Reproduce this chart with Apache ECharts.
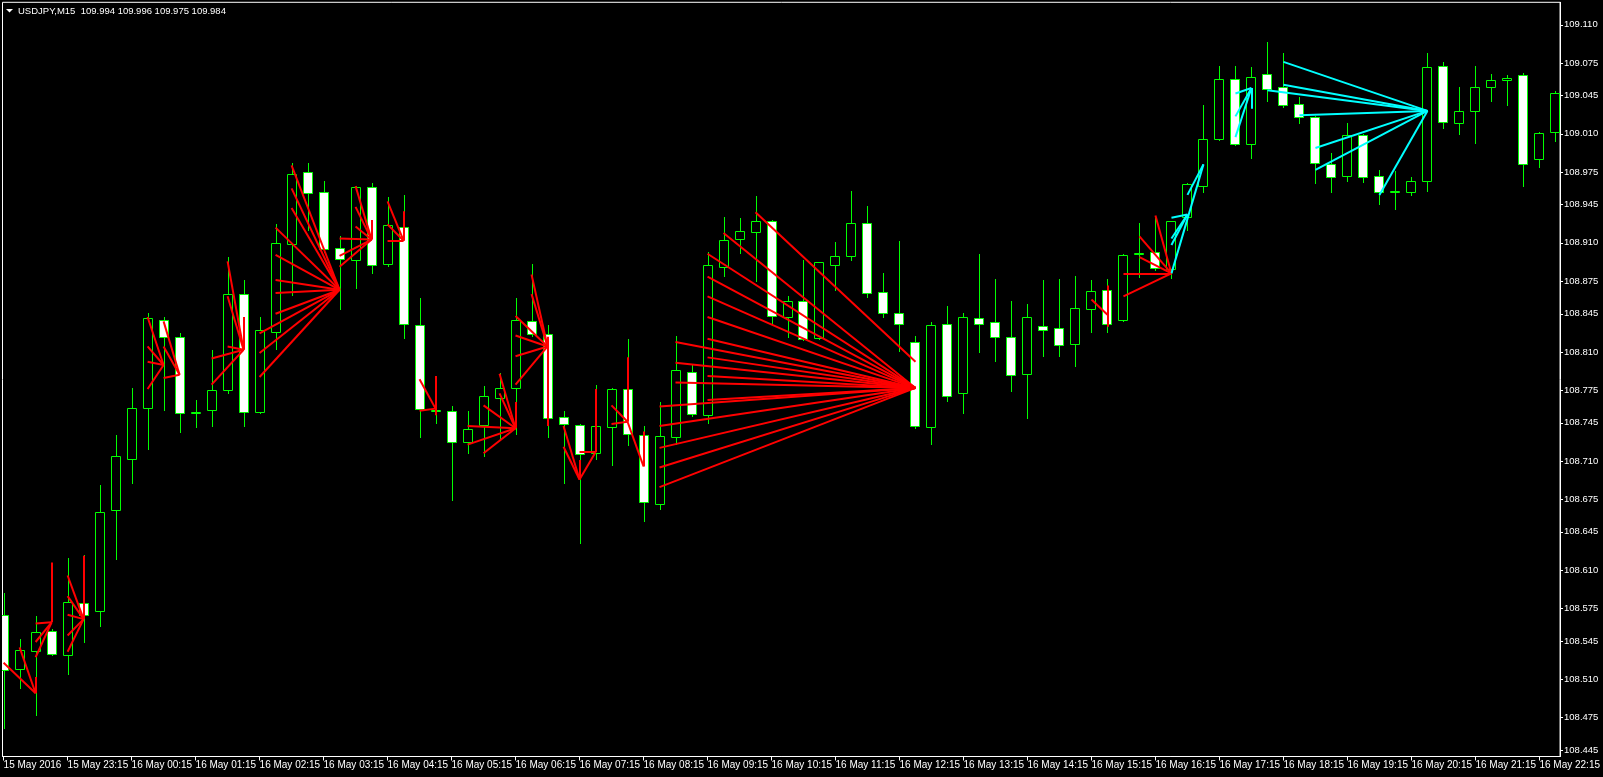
<html>
<head>
<meta charset="utf-8">
<title>USDJPY,M15</title>
<script src="https://cdn.jsdelivr.net/npm/echarts@6/dist/echarts.min.js"></script>
<style>
html, body { margin: 0; padding: 0; background: #000; }
#chart { width: 1603px; height: 777px; }
</style>
</head>
<body>
<div id="chart"></div>
<script>
// bar labels on the time scale (one every 4 bars = 1 hour)
var xTickBars = [0, 4, 8, 12, 16, 20, 24, 28, 32, 36, 40, 44, 48, 52, 56, 60, 64, 68, 72, 76, 80, 84, 88, 92, 96];
var xLabels = ['15 May 2016', '15 May 23:15', '16 May 00:15', '16 May 01:15', '16 May 02:15', '16 May 03:15',
	'16 May 04:15', '16 May 05:15', '16 May 06:15', '16 May 07:15', '16 May 08:15', '16 May 09:15',
	'16 May 10:15', '16 May 11:15', '16 May 12:15', '16 May 13:15', '16 May 14:15', '16 May 15:15',
	'16 May 16:15', '16 May 17:15', '16 May 18:15', '16 May 19:15', '16 May 20:15', '16 May 21:15', '16 May 22:15'];

// price scale labels
var yTicks = [108.445, 108.475, 108.510, 108.545, 108.575, 108.610, 108.645, 108.675, 108.710, 108.745,
	108.775, 108.810, 108.845, 108.875, 108.910, 108.945, 108.975, 109.010, 109.045, 109.075, 109.110];

// candles, bar 0 .. 97
var opens = [
	108.569, 108.519, 108.536, 108.554, 108.532, 108.580, 108.572, 108.665, 108.712, 108.759,
	108.839, 108.824, 108.754, 108.757, 108.775, 108.863, 108.755, 108.828, 108.909, 108.975,
	108.957, 108.905, 108.894, 108.961, 108.891, 108.925, 108.835, 108.756, 108.756, 108.727,
	108.743, 108.768, 108.777, 108.838, 108.826, 108.750, 108.743, 108.717, 108.741, 108.776,
	108.734, 108.671, 108.732, 108.792, 108.752, 108.888, 108.914, 108.920, 108.930, 108.842,
	108.857, 108.823, 108.890, 108.898, 108.928, 108.865, 108.846, 108.819, 108.741, 108.836,
	108.772, 108.841, 108.837, 108.824, 108.790, 108.834, 108.832, 108.817, 108.849, 108.867,
	108.839, 108.900, 108.902, 108.886, 108.934, 108.962, 109.005, 109.060, 109.001, 109.065,
	109.053, 109.037, 109.025, 108.982, 108.971, 109.009, 108.971, 108.958, 108.957, 108.967,
	109.072, 109.020, 109.031, 109.053, 109.059, 109.064, 108.987, 109.012];
var highs = [
	108.589, 108.547, 108.568, 108.556, 108.621, 108.624, 108.688, 108.734, 108.777, 108.846,
	108.842, 108.827, 108.766, 108.812, 108.897, 108.876, 108.842, 108.927, 108.983, 108.983,
	108.967, 108.916, 108.962, 108.965, 108.952, 108.954, 108.859, 108.761, 108.760, 108.756,
	108.779, 108.791, 108.859, 108.891, 108.835, 108.756, 108.744, 108.780, 108.777, 108.822,
	108.742, 108.764, 108.825, 108.798, 108.902, 108.934, 108.933, 108.953, 108.931, 108.861,
	108.894, 108.892, 108.911, 108.958, 108.944, 108.882, 108.912, 108.825, 108.837, 108.852,
	108.846, 108.900, 108.877, 108.857, 108.854, 108.876, 108.877, 108.880, 108.876, 108.877,
	108.900, 108.928, 108.933, 108.930, 108.965, 109.036, 109.072, 109.072, 109.071, 109.094,
	109.084, 109.044, 109.026, 108.992, 109.020, 109.010, 108.977, 108.976, 108.970, 109.084,
	109.076, 109.053, 109.072, 109.065, 109.064, 109.066, 109.012, 109.049];
var lows = [
	108.465, 108.502, 108.477, 108.532, 108.515, 108.544, 108.559, 108.620, 108.690, 108.721,
	108.757, 108.737, 108.741, 108.742, 108.772, 108.742, 108.754, 108.813, 108.862, 108.922,
	108.902, 108.849, 108.869, 108.882, 108.889, 108.823, 108.732, 108.745, 108.674, 108.717,
	108.715, 108.731, 108.735, 108.825, 108.732, 108.690, 108.635, 108.712, 108.706, 108.725,
	108.655, 108.666, 108.726, 108.751, 108.745, 108.880, 108.901, 108.875, 108.836, 108.824,
	108.821, 108.822, 108.867, 108.894, 108.860, 108.842, 108.811, 108.740, 108.726, 108.765,
	108.754, 108.810, 108.802, 108.774, 108.749, 108.806, 108.806, 108.797, 108.828, 108.828,
	108.838, 108.879, 108.885, 108.878, 108.922, 108.957, 109.004, 109.000, 108.988, 109.040,
	109.035, 109.020, 108.965, 108.957, 108.967, 108.966, 108.946, 108.941, 108.954, 108.958,
	109.015, 109.010, 109.002, 109.040, 109.036, 108.962, 108.980, 109.003];
var closes = [
	108.518, 108.537, 108.553, 108.533, 108.581, 108.569, 108.663, 108.715, 108.759, 108.841,
	108.824, 108.754, 108.755, 108.775, 108.863, 108.755, 108.830, 108.910, 108.973, 108.956,
	108.904, 108.895, 108.961, 108.890, 108.926, 108.836, 108.758, 108.757, 108.727, 108.739,
	108.770, 108.777, 108.839, 108.826, 108.749, 108.744, 108.716, 108.742, 108.776, 108.735,
	108.672, 108.733, 108.793, 108.753, 108.890, 108.913, 108.921, 108.930, 108.843, 108.857,
	108.822, 108.892, 108.898, 108.928, 108.864, 108.846, 108.836, 108.742, 108.835, 108.770,
	108.842, 108.836, 108.824, 108.789, 108.842, 108.830, 108.816, 108.850, 108.866, 108.836,
	108.899, 108.901, 108.887, 108.930, 108.964, 109.005, 109.060, 109.001, 109.062, 109.051,
	109.036, 109.025, 108.983, 108.970, 109.009, 108.970, 108.957, 108.958, 108.967, 109.071,
	109.021, 109.031, 109.053, 109.059, 109.061, 108.982, 109.011, 109.047];

// trend objects: [bar1, price1, bar2, price2]
var redLines = [
	[0, 108.525, 2, 108.497], [1, 108.539, 2, 108.497], [2, 108.512, 2, 108.497],
	[2, 108.561, 3, 108.562], [2, 108.544, 3, 108.562], [2, 108.530, 3, 108.562], [3, 108.617, 3, 108.562],
	[4, 108.605, 5, 108.565], [4, 108.586, 5, 108.565], [4, 108.569, 5, 108.565], [4, 108.550, 5, 108.565],
	[4, 108.535, 5, 108.565], [5, 108.623, 5, 108.565],
	[9, 108.842, 10, 108.798], [9, 108.815, 10, 108.798], [9, 108.801, 10, 108.798], [9, 108.776, 10, 108.798],
	[10, 108.838, 11, 108.789], [10, 108.815, 11, 108.789], [10, 108.786, 11, 108.789],
	[14, 108.893, 15, 108.812], [14, 108.861, 15, 108.812], [14, 108.815, 15, 108.812],
	[13, 108.804, 15, 108.812], [13, 108.780, 15, 108.812], [15, 108.842, 15, 108.812],
	[18, 108.981, 21, 108.867], [18, 108.960, 21, 108.867], [18, 108.942, 21, 108.867],
	[17, 108.924, 21, 108.867], [17, 108.899, 21, 108.867], [17, 108.876, 21, 108.867],
	[17, 108.864, 21, 108.867], [17, 108.845, 21, 108.867], [16, 108.827, 21, 108.867],
	[16, 108.809, 21, 108.867], [16, 108.787, 21, 108.867],
	[22, 108.962, 23, 108.913], [22, 108.943, 23, 108.913], [22, 108.925, 23, 108.913],
	[21, 108.914, 23, 108.913], [21, 108.898, 23, 108.913], [21, 108.888, 23, 108.913], [23, 108.931, 23, 108.913],
	[24, 108.948, 25, 108.912], [24, 108.927, 25, 108.912], [24, 108.912, 25, 108.912], [25, 108.939, 25, 108.912],
	[26, 108.785, 27, 108.758], [26, 108.756, 27, 108.758], [27, 108.788, 27, 108.752],
	[31, 108.790, 32, 108.740], [31, 108.772, 32, 108.740], [30, 108.761, 32, 108.740],
	[29, 108.742, 32, 108.740], [29, 108.725, 32, 108.740], [30, 108.717, 32, 108.740], [32, 108.764, 32, 108.740],
	[33, 108.881, 34, 108.815], [33, 108.863, 34, 108.815], [32, 108.843, 34, 108.815],
	[32, 108.825, 34, 108.815], [32, 108.806, 34, 108.815], [32, 108.780, 34, 108.815], [34, 108.824, 34, 108.742],
	[35, 108.742, 36, 108.693], [35, 108.723, 36, 108.693], [37, 108.718, 36, 108.693], [36, 108.711, 36, 108.693],
	[37, 108.776, 37, 108.718], [36, 108.718, 37, 108.718],
	[38, 108.761, 39, 108.746], [38, 108.744, 39, 108.746], [39, 108.805, 39, 108.746],
	[39, 108.746, 40, 108.705], [40, 108.737, 40, 108.705],
	[45, 108.919, 57, 108.777], [44, 108.900, 57, 108.777], [44, 108.879, 57, 108.777], [44, 108.861, 57, 108.777],
	[44, 108.842, 57, 108.777], [44, 108.822, 57, 108.777], [44, 108.805, 57, 108.777], [44, 108.788, 57, 108.777],
	[44, 108.766, 57, 108.777], [42, 108.819, 57, 108.777], [42, 108.800, 57, 108.777], [42, 108.782, 57, 108.777],
	[41, 108.760, 57, 108.777], [41, 108.742, 57, 108.777], [41, 108.722, 57, 108.777], [41, 108.704, 57, 108.777],
	[41, 108.686, 57, 108.777], [47, 108.938, 57, 108.801],
	[72, 108.935, 73, 108.882], [71, 108.916, 73, 108.882], [71, 108.897, 73, 108.882],
	[70, 108.882, 73, 108.882], [70, 108.861, 73, 108.882],
	[68, 108.858, 69, 108.844], [69, 108.871, 69, 108.833]
];
var cyanLines = [
	[73, 108.882, 75, 108.982], [74, 108.954, 75, 108.982],
	[73, 108.933, 74, 108.936], [73, 108.908, 74, 108.936], [73, 108.914, 74, 108.936],
	[77, 109.047, 78, 109.052], [77, 109.026, 78, 109.052], [77, 109.007, 78, 109.052], [78, 109.033, 78, 109.052],
	[80, 109.076, 89, 109.031], [80, 109.055, 89, 109.031], [79, 109.050, 89, 109.031], [81, 109.027, 89, 109.031],
	[82, 108.997, 89, 109.031], [82, 108.977, 89, 109.031], [86, 108.954, 89, 109.031]
];

var FONT = 'Liberation Sans';
var GREEN = '#00ff00';

// 画一根蜡烛
function renderCandle(params, api) {
	var bar = api.value(0);
	var o = api.value(1), c = api.value(2), l = api.value(3), h = api.value(4);
	var pTop = api.coord([bar, Math.max(o, c)]);
	var pBot = api.coord([bar, Math.min(o, c)]);
	var pHi = api.coord([bar, h]);
	var pLo = api.coord([bar, l]);
	var x = Math.round(pTop[0]) + 0.5;
	var yT = Math.round(pTop[1]) + 0.5;
	var yB = Math.round(pBot[1]) + 0.5;
	if (yB - yT < 1) yB = yT + 1;
	return {
		type: 'group',
		children: [
			{ type: 'line', shape: { x1: x, y1: Math.round(pHi[1]), x2: x, y2: yT }, style: { stroke: GREEN, lineWidth: 1 } },
			{ type: 'line', shape: { x1: x, y1: yB, x2: x, y2: Math.round(pLo[1]) + 1 }, style: { stroke: GREEN, lineWidth: 1 } },
			{ type: 'rect', shape: { x: x - 5, y: yT, width: 9, height: yB - yT },
				style: { fill: c >= o ? '#000000' : '#ffffff', stroke: GREEN, lineWidth: 1 } }
		]
	};
}

var candleData = [];
for (var i = 0; i < opens.length; i++) {
	candleData.push([i, opens[i], closes[i], lows[i], highs[i]]);
}

function toLines(list) {
	return list.map(function (s) { return { coords: [[s[0], s[1]], [s[2], s[3]]] }; });
}

var myChart = echarts.init(document.getElementById('chart'));

var option = {
	animation: false,
	backgroundColor: '#000000',
	grid: {
		left: 2.5, top: 2.3, width: 1557.8, height: 754.2,
		show: true, borderColor: '#ffffff', borderWidth: 1, backgroundColor: 'transparent'
	},
	graphic: [
		{ type: 'polygon', shape: { points: [[6, 9], [13, 9], [9.5, 12.5]] }, style: { fill: '#ffffff' } },
		{ type: 'text', x: 18, y: 11,
			style: { text: 'USDJPY,M15  109.994 109.996 109.975 109.984', fill: '#ffffff',
				font: '9.5px "' + FONT + '"', verticalAlign: 'middle' } }
	],
	xAxis: {
		type: 'value',
		min: -0.069,
		max: 97.29,
		axisLine: { show: true, onZero: false, lineStyle: { color: '#ffffff', width: 1 } },
		axisTick: { show: true, customValues: xTickBars, length: 4, lineStyle: { color: '#ffffff' } },
		axisLabel: {
			customValues: xTickBars,
			color: '#ffffff', fontFamily: FONT, fontSize: 10,
			align: 'left', margin: 4,
			formatter: function (v) { return xLabels[xTickBars.indexOf(Math.round(v))]; }
		},
		splitLine: { show: false }
	},
	yAxis: {
		type: 'value',
		position: 'right',
		min: 108.439,
		max: 109.1306,
		axisLine: { show: true, onZero: false, lineStyle: { color: '#ffffff', width: 1 } },
		axisTick: { show: true, customValues: yTicks, length: 3, lineStyle: { color: '#ffffff' } },
		axisLabel: {
			customValues: yTicks,
			color: '#ffffff', fontFamily: FONT, fontSize: 9.5, margin: 4,
			formatter: function (v) { return v.toFixed(3); }
		},
		splitLine: { show: false }
	},
	series: [
		{
			type: 'custom',
			renderItem: renderCandle,
			data: candleData,
			encode: { x: 0, y: [1, 2, 3, 4] },
			clip: true,
			silent: true,
			z: 2
		},
		{
			type: 'lines',
			coordinateSystem: 'cartesian2d',
			data: toLines(redLines),
			lineStyle: { color: '#ff0000', width: 2, opacity: 1 },
			silent: true,
			z: 5
		},
		{
			type: 'lines',
			coordinateSystem: 'cartesian2d',
			data: toLines(cyanLines),
			lineStyle: { color: '#00ffff', width: 2, opacity: 1 },
			silent: true,
			z: 5
		}
	]
};

myChart.setOption(option);
</script>
</body>
</html>
